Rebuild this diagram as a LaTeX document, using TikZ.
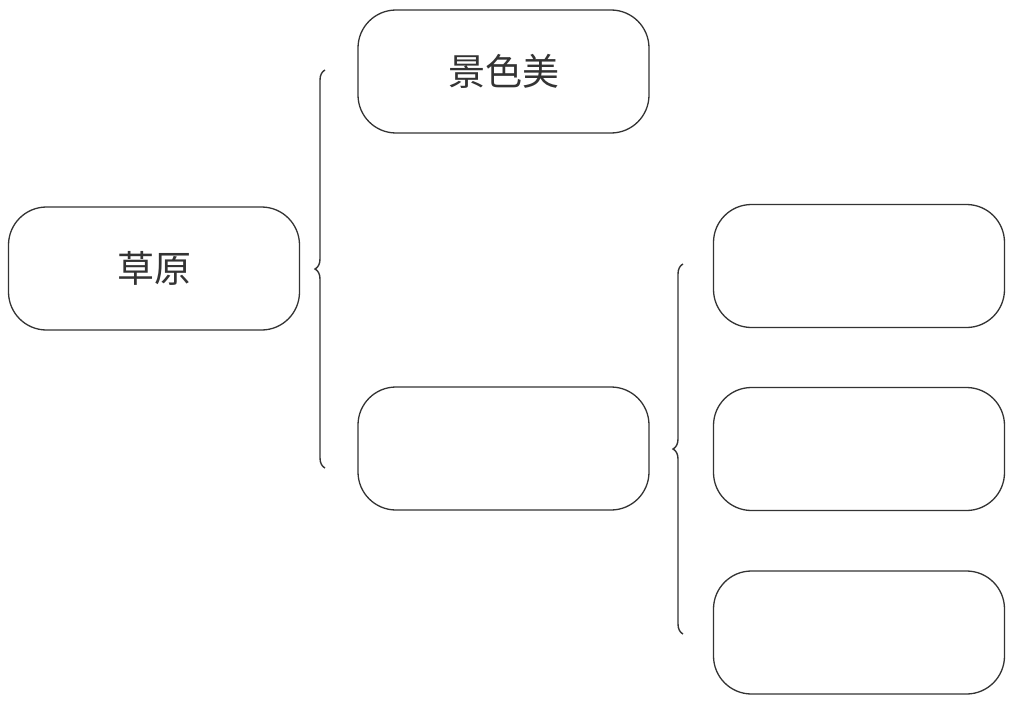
\documentclass[tikz,border=0pt]{standalone}
\usepackage{fontspec}
\newfontfamily\cjk{Noto Sans CJK SC}
\usetikzlibrary{decorations.pathreplacing}
\definecolor{ink}{HTML}{333333}
\begin{document}
\begin{tikzpicture}[x=1pt,y=-1pt,
  box/.style={draw=ink, line width=1.3pt, rounded corners=38pt, minimum width=291pt, minimum height=123pt, inner sep=0pt, font=\cjk\fontsize{37}{40}\selectfont, text=ink},
  bracestyle/.style={draw=ink, line width=1.4pt, decorate, decoration={brace, amplitude=10pt, aspect=0.5}}]
\useasboundingbox (0,0) rectangle (1025,709);
\node[box] (cy) at (154,268.5) {草原};
\node[box] (jsm) at (503.5,71.5) {景色美};
\node[box] (mid) at (503.5,448.5) {};
\node[box] (r1) at (859,266) {};
\node[box] (r2) at (859,449) {};
\node[box] (r3) at (859,632.5) {};
\coordinate (b1top) at (325,70);
\coordinate (b1bot) at (325,468);
\coordinate (b2top) at (683,264);
\coordinate (b2bot) at (683,634);
\draw[bracestyle] (b1bot) -- (b1top);
\draw[bracestyle] (b2bot) -- (b2top);
\end{tikzpicture}
\end{document}
